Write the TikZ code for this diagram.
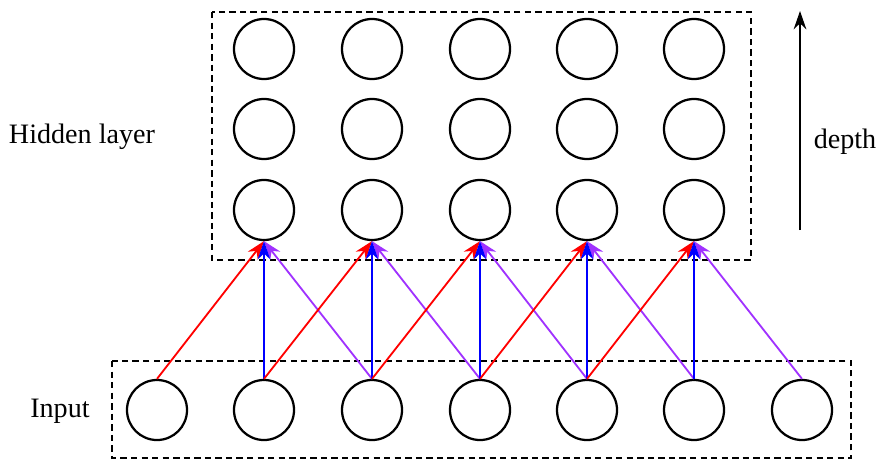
\documentclass[tikz,border=0pt]{standalone}
\usepackage{fontspec}
\setmainfont{Liberation Serif}
\usepackage{tikz}
\usetikzlibrary{arrows.meta,positioning}
\definecolor{linkRed}{RGB}{255,0,0}
\definecolor{linkBlue}{RGB}{0,0,255}
\definecolor{linkViolet}{RGB}{160,50,255}

\begin{document}
\begin{tikzpicture}[x=0.025cm, y=-0.025cm,
        neuron/.style={draw, circle, line width=1.6pt, minimum size=1.5cm, inner sep=0pt},
        frame/.style={draw, line width=1.4pt, dash pattern=on 4.5pt off 3pt},
        link/.style={line width=1.3pt, -{Stealth[length=13pt, width=9pt]}},
        lbl/.style={font=\fontsize{20}{24}\selectfont},
      ]
        \useasboundingbox (0,0) rectangle (879,460);

        % input layer
        \foreach \x [count=\i] in {157,264,372,480,587,694,802}
          \node[neuron] (in-\i) at (\x, 410) {};
        % hidden layer, rows top to bottom
        \foreach \r/\y in {1/49, 2/129, 3/210}
          \foreach \x [count=\c] in {264,372,480,587,694}
            \node[neuron] (h-\r-\c) at (\x, \y) {};

        \draw[frame] (212,12) rectangle (751,260);
        \draw[frame] (112,361) rectangle (851,458);

        % connections into the bottom hidden row
        \foreach \c/\m/\n in {1/2/3, 2/3/4, 3/4/5, 4/5/6, 5/6/7} {
          \draw[link, linkViolet] (in-\n.north) -- (h-3-\c.south);
          \draw[link, linkRed] (in-\c.north) -- (h-3-\c.south);
          \draw[link, linkBlue] (in-\m.north) -- (h-3-\c.south);
        }

        \node[lbl] (hidlbl) at (82,137) {Hidden layer};
        \node[lbl] (inlbl) at (60,411) {Input};

        \coordinate (d-start) at (800,230);
        \coordinate (d-end) at (800,11);
        \draw[line width=1.3pt, -{Stealth[length=13pt, width=9pt]}] (d-start) -- (d-end);
        \node[lbl] (deplbl) at (845,142) {depth};
      \end{tikzpicture}
\end{document}
